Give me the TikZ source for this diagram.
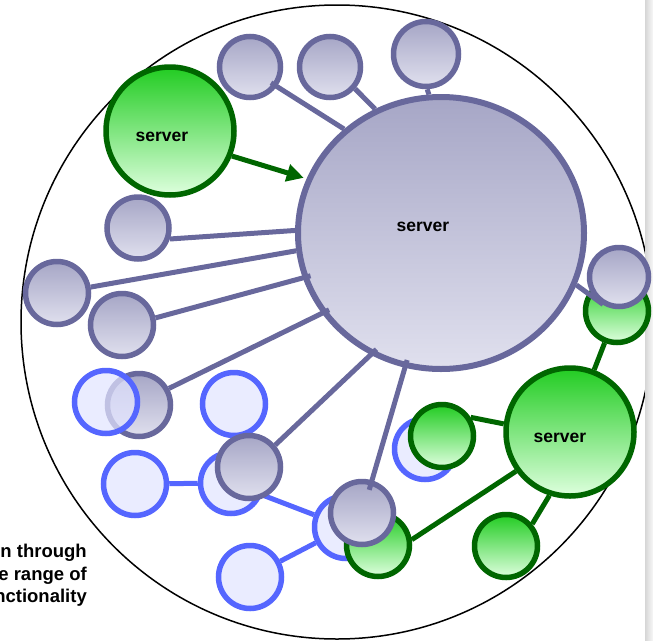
\documentclass[tikz,border=0pt]{standalone}
\usepackage{fontspec}
\setmainfont{Liberation Sans}
\usetikzlibrary{shapes.geometric,arrows.meta}
\pgfdeclarelayer{bg}
\pgfsetlayers{bg,main}
\definecolor{grayb}{RGB}{104,104,156}
\definecolor{graytop}{RGB}{166,166,198}
\definecolor{graybot}{RGB}{224,224,238}
\definecolor{greenb}{RGB}{0,102,0}
\definecolor{greentop}{RGB}{34,204,34}
\definecolor{greenbot}{RGB}{222,255,222}
\definecolor{blueb}{RGB}{85,102,255}
\definecolor{bluef}{RGB}{226,228,255}
\begin{document}
\begin{tikzpicture}[x=1pt,y=-1pt,
  gnode/.style={circle,draw=grayb,line width=5.5pt,top color=graytop,bottom color=graybot,minimum size=#1,inner sep=0pt},
  gnode/.default=62,
  grnode/.style={circle,draw=greenb,line width=5.5pt,top color=greentop,bottom color=greenbot,minimum size=#1,inner sep=0pt},
  grnode/.default=63,
  bnode/.style={circle,draw=blueb,line width=5.5pt,fill=bluef,fill opacity=0.72,draw opacity=1,minimum size=#1,inner sep=0pt},
  bnode/.default=63,
  gedge/.style={draw=grayb,line width=5pt},
  gredge/.style={draw=greenb,line width=5pt},
  bedge/.style={draw=blueb,line width=5pt},
  lbl/.style={font=\fontsize{17.5}{21}\selectfont\bfseries,inner sep=0pt,anchor=base},
  side/.style={font=\fontsize{18.5}{22}\selectfont\bfseries,inner sep=0pt,anchor=base east}]
\useasboundingbox (0,0) rectangle (653,640);
% outer boundary
\draw[line width=1.5pt] (337,322) ellipse [x radius=316, y radius=317];
% right strip
\shade[left color=gray!32,right color=gray!6] (645,0) rectangle (653,640);
% blue nodes (behind)
\node[bnode] (bb) at (234,404) {};
\node[bnode] (bc) at (135,484) {};
\node[bnode=61] (bd) at (231,483) {};
\node[bnode] (be) at (346,527) {};
\node[bnode=61] (bf) at (425,449) {};
\node[bnode] (bg) at (250,577) {};
% green nodes
\node[grnode] (gC) at (442,436) {};
\node[grnode] (gD) at (506,546) {};
\node[grnode] (gE) at (378,545) {};
\node[grnode] (gF) at (617,311) {};
\node[grnode=128] (gA) at (170,131) {};
\node[grnode=128] (gB) at (570,432) {};
% gray nodes
\node[gnode=61] (n1) at (250,67) {};
\node[gnode=61] (n2) at (330,67) {};
\node[gnode=65] (n3) at (426,54) {};
\node[gnode=59] (n5) at (619,277) {};
\node[gnode] (n6) at (138,228) {};
\node[gnode=63] (n7) at (57,293) {};
\node[gnode=63] (n8) at (122,325) {};
\node[gnode=63] (n9) at (139,405) {};
\node[gnode=63] (n10) at (249,467) {};
\node[gnode=63] (n11) at (362,513) {};
\node[bnode] (ba) at (106,402) {};
% big server
\node[ellipse,draw=grayb,line width=6pt,top color=graytop,bottom color=graybot,minimum width=286,minimum height=272,inner sep=0pt] (S) at (441,233) {};
% blue edges (behind)
\begin{pgfonlayer}{bg}
\draw[bedge] (bc) -- (bd);
\draw[bedge] (bd) -- (be);
\draw[bedge] (bg) -- (be);
\end{pgfonlayer}
% green edges
\draw[gredge] (gB) -- (gF);
\draw[gredge] (gC.33) -- (gB.173);
\draw[gredge] (gE.9) -- (gB.216);
\draw[gredge] (gD.40) -- (gB.252);
% gray edges
\draw[gedge,shorten <=-7pt] (n1.-36) -- (S.133);
\draw[gedge] (n2.-41) -- (S.118);
\draw[gedge] (n3.-88) -- (S.95);
\draw[gedge] (n6.-19) -- (S.179);
\draw[gedge] (n7.10) -- (S.187);
\draw[gedge,shorten >=-8pt] (n8.12) -- (S.198);
\draw[gedge,shorten >=-8pt] (n9.29) -- (S.214);
\draw[gedge,shorten >=-8pt] (n10.40) -- (S.240);
\draw[gedge,shorten >=-8pt,shorten <=-10pt] (n11.73) -- (S.255);
\draw[gedge,shorten >=-10pt] (S.-21) -- (n5.222);
% arrow
\draw[gredge,-{Triangle[length=17pt,width=17pt]},shorten >=3pt] (gA.-22) -- (S.158);
% labels
\node[lbl] (tA) at (162,141) {server};
\node[lbl] (tS) at (423,231) {server};
\node[lbl] (tB) at (560,442) {server};
\node[side] (t1) at (87,557) {n through};
\node[side] (t2) at (87,580) {e range of};
\node[side] (t3) at (87,602) {nctionality};
\end{tikzpicture}
\end{document}
